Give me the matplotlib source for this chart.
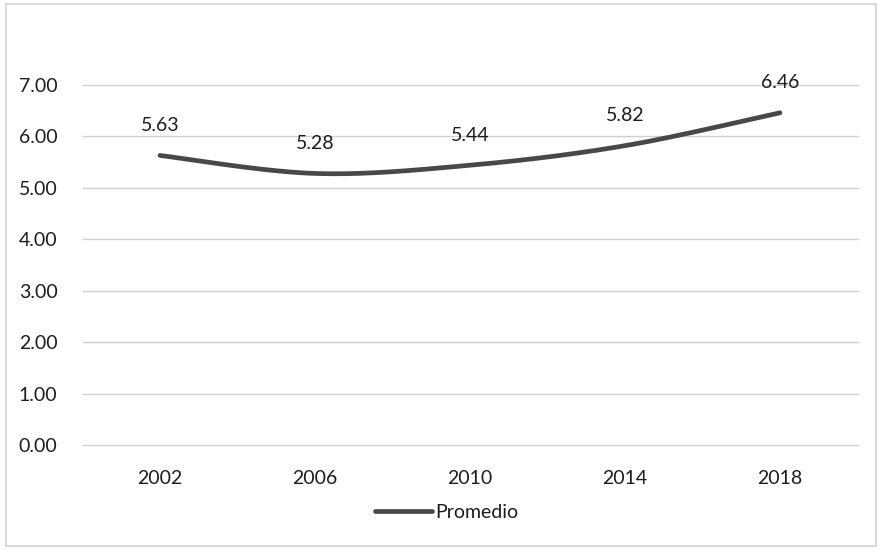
import numpy as np
import matplotlib
matplotlib.use("Agg")
import matplotlib.pyplot as plt
from matplotlib.patches import Rectangle

plt.rcParams['font.family'] = ['Lato', 'DejaVu Sans']

years = ["2002", "2006", "2010", "2014", "2018"]
promedio = [5.63, 5.28, 5.44, 5.82, 6.46]
y_ticks = [0, 1, 2, 3, 4, 5, 6, 7]
y_tick_labels = ["0.00", "1.00", "2.00", "3.00", "4.00", "5.00", "6.00", "7.00"]
series_name = "Promedio"

text_color = "#1c1c1c"
line_color = "#484848"
grid_color = "#cfcfcf"


def smooth_curve(xs, ys, steps=40):
    """Catmull-Rom style Bezier smoothing, like a spreadsheet 'smoothed line'."""
    xs = np.asarray(xs, float)
    ys = np.asarray(ys, float)
    px = np.concatenate([[xs[0]], xs, [xs[-1]]])
    py = np.concatenate([[ys[0]], ys, [ys[-1]]])
    out_x, out_y = [], []
    t = np.linspace(0, 1, steps)
    for i in range(1, len(px) - 2):
        p0 = np.array([px[i], py[i]])
        p3 = np.array([px[i + 1], py[i + 1]])
        c1 = p0 + (np.array([px[i + 1], py[i + 1]]) - np.array([px[i - 1], py[i - 1]])) / 6
        c2 = p3 - (np.array([px[i + 2], py[i + 2]]) - np.array([px[i], py[i]])) / 6
        b = ((1 - t) ** 3)[:, None] * p0 + (3 * (1 - t) ** 2 * t)[:, None] * c1 \
            + (3 * (1 - t) * t ** 2)[:, None] * c2 + (t ** 3)[:, None] * p3
        if i > 1:
            b = b[1:]
        out_x.extend(b[:, 0])
        out_y.extend(b[:, 1])
    return np.array(out_x), np.array(out_y)


fig = plt.figure(figsize=(8.8, 5.5), dpi=100)
fig.patch.set_facecolor("white")
ax = fig.add_axes([82.5 / 880, 1 - 445 / 550, (857.5 - 82.5) / 880, (445 - 85) / 550])

x = np.arange(len(years))
sx, sy = smooth_curve(x, promedio)
ax.plot(sx, sy, color=line_color, lw=3.4, solid_capstyle="round", label=series_name, zorder=3)

for xi, v in zip(x, promedio):
    ax.annotate(f"{v:.2f}", xy=(xi, v), xytext=(0, 21.5), textcoords="offset points",
                ha="center", va="center", fontsize=14, color=text_color, zorder=4)

ax.set_xlim(-0.5, len(years) - 0.5)
ax.set_ylim(0, 7)
ax.set_yticks(y_ticks)
ax.set_yticklabels(y_tick_labels)
ax.set_xticks(x)
ax.set_xticklabels(years)
ax.tick_params(axis="both", length=0, labelsize=14, colors=text_color)
ax.tick_params(axis="y", pad=18)
ax.tick_params(axis="x", pad=18)
ax.yaxis.grid(True, color=grid_color, lw=1.0)
for gl in ax.get_ygridlines():
    gl.set_clip_on(False)
ax.set_axisbelow(True)
for s in ax.spines.values():
    s.set_visible(False)
ax.set_facecolor("none")

fig.legend(loc="center", bbox_to_anchor=(447 / 880, 1 - 512 / 550), frameon=False,
           fontsize=14, handlelength=2.9, handletextpad=0.2, labelcolor=text_color)

fig.patches.append(Rectangle((6 / 880, 4 / 550), 870 / 880, 542 / 550, transform=fig.transFigure,
                             fill=False, edgecolor="#d2d2d2", lw=1.2))

fig.savefig("out.png", dpi=100)
